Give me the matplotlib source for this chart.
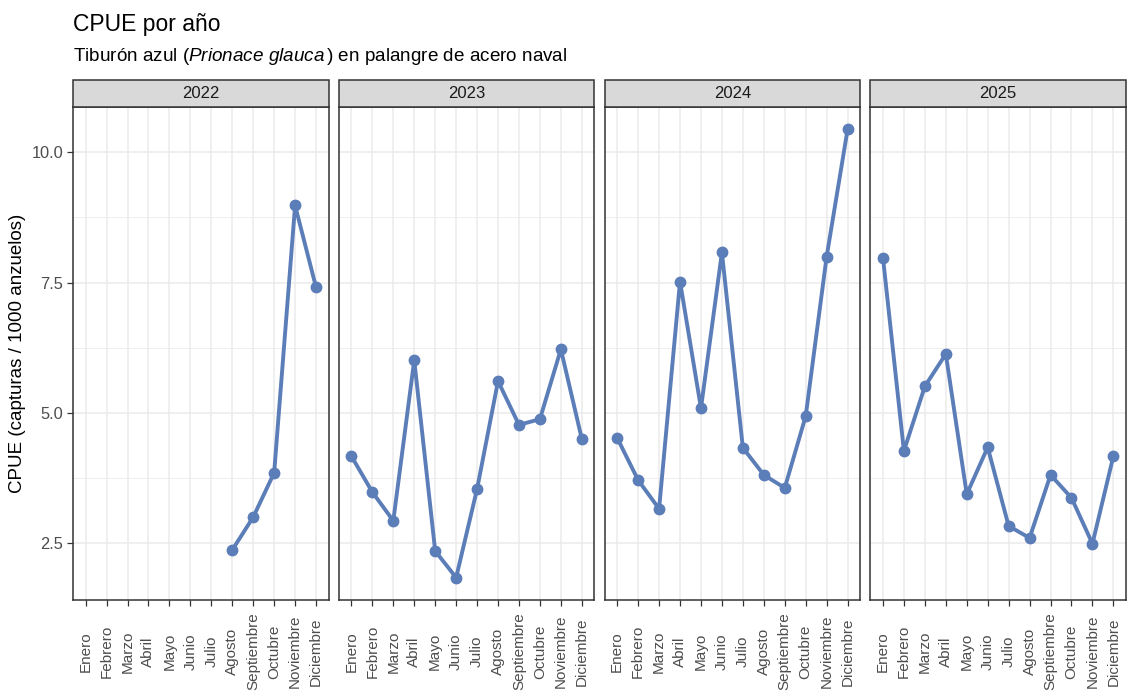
import numpy as np
import matplotlib
matplotlib.use('Agg')
import matplotlib.pyplot as plt
from matplotlib.patches import Rectangle

plt.rcParams['font.family'] = ['Liberation Sans', 'DejaVu Sans']
plt.rcParams['mathtext.fontset'] = 'custom'
plt.rcParams['mathtext.rm'] = 'Liberation Sans'
plt.rcParams['mathtext.it'] = 'Liberation Sans:italic'

# Data
months = ['Enero', 'Febrero', 'Marzo', 'Abril', 'Mayo', 'Junio', 'Julio',
          'Agosto', 'Septiembre', 'Octubre', 'Noviembre', 'Diciembre']
years = ['2022', '2023', '2024', '2025']

cpue_2022 = [np.nan, np.nan, np.nan, np.nan, np.nan, np.nan, np.nan,
             2.37, 3.00, 3.85, 8.98, 7.41]
cpue_2023 = [4.17, 3.48, 2.93, 6.01, 2.35, 1.84, 3.54, 5.61, 4.77, 4.88, 6.22, 4.50]
cpue_2024 = [4.52, 3.71, 3.16, 7.52, 5.09, 8.08, 4.33, 3.81, 3.56, 4.94, 8.00, 10.44]
cpue_2025 = [7.98, 4.27, 5.51, 6.13, 3.44, 4.34, 2.83, 2.60, 3.81, 3.37, 2.49, 4.17]
series = [cpue_2022, cpue_2023, cpue_2024, cpue_2025]

line_col = '#5b7db8'
dark = '#333333'
grey_txt = '#4d4d4d'

fig, axes = plt.subplots(1, 4, figsize=(11.29, 6.91), dpi=100, sharey=True)
fig.subplots_adjust(left=0.0647, right=0.9973, bottom=0.1317, top=0.8452, wspace=0.04)

x = np.arange(len(months))
all_vals = np.concatenate([np.array(s, dtype=float) for s in series])
lo, hi = np.nanmin(all_vals), np.nanmax(all_vals)
pad = (hi - lo) * 0.05

for i, (ax, yr, vals) in enumerate(zip(axes, years, series)):
    vals = np.array(vals, dtype=float)
    ax.plot(x, vals, color=line_col, lw=2.8, marker='o', ms=7.5, zorder=3)
    ax.set_xlim(-0.6, 11.6)
    ax.set_ylim(lo - pad, hi + pad)
    ax.set_xticks(x)
    ax.set_xticklabels(months, rotation=90, va='center', fontsize=11, color=grey_txt)
    ax.set_yticks([2.5, 5.0, 7.5, 10.0])
    ax.set_yticks([3.75, 6.25, 8.75], minor=True)
    ax.set_xticks([], minor=True)
    ax.grid(True, which='major', color='#ebebeb', lw=1.1, zorder=0)
    ax.grid(True, which='minor', axis='y', color='#ebebeb', lw=0.6, zorder=0)
    ax.set_axisbelow(True)
    ax.tick_params(axis='x', which='major', length=4, width=0.9, color=dark, pad=33)
    ax.tick_params(axis='y', which='major', length=4, width=0.9, color=dark,
                   labelsize=11.8, labelcolor=grey_txt, pad=3)
    ax.tick_params(axis='y', which='minor', length=0)
    if i > 0:
        ax.tick_params(axis='y', which='major', length=0)
    for sp in ax.spines.values():
        sp.set_color(dark)
        sp.set_linewidth(1.1)
    # facet strip
    ax.add_patch(Rectangle((0, 1), 1, 0.0548, transform=ax.transAxes,
                           facecolor='#d9d9d9', edgecolor=dark, lw=1.1,
                           clip_on=False, zorder=5))
    ax.text(0.5, 1 + 0.0548 / 2, yr, transform=ax.transAxes, ha='center',
            va='center', fontsize=12, color='#1a1a1a', zorder=6)

axes[0].set_yticklabels(['2.5', '5.0', '7.5', '10.0'])
axes[0].set_ylabel('CPUE (capturas / 1000 anzuelos)', fontsize=13.5, labelpad=4)

fig.text(0.0647, 0.955, 'CPUE por año', fontsize=16.5, ha='left', va='baseline')
fig.text(0.0647, 0.912,
         r'Tiburón azul ($\mathit{Prionace\ glauca}\,$) en palangre de acero naval',
         fontsize=13.6, ha='left', va='baseline')

plt.savefig('out.png', dpi=100)
